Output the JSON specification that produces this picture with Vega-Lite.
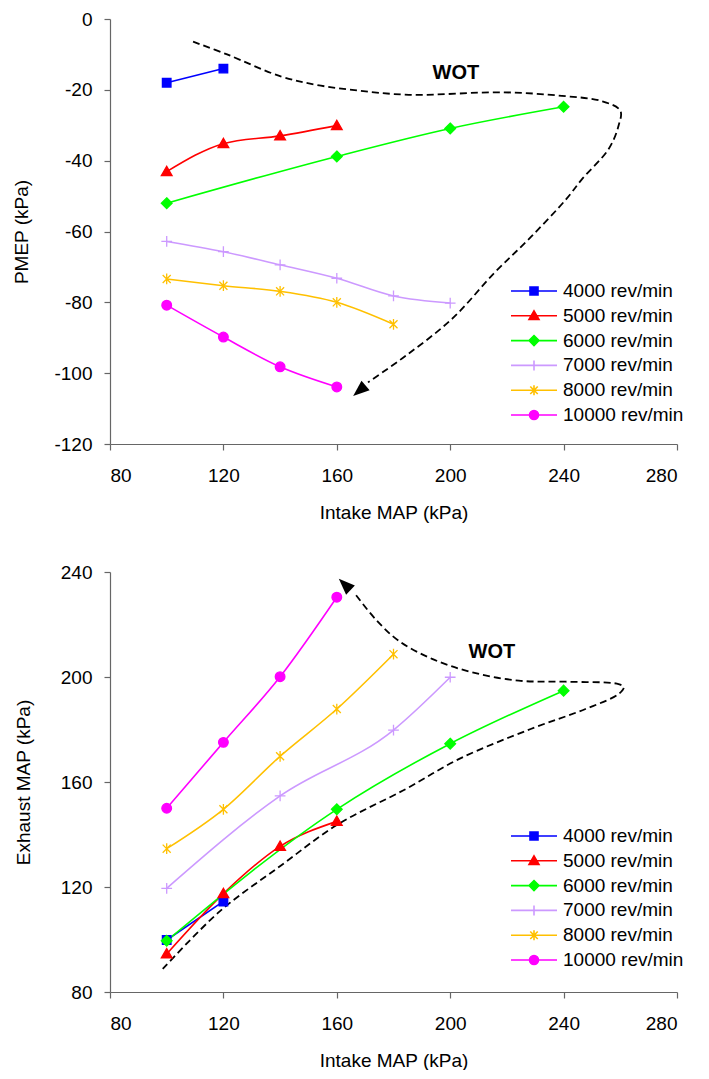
{
  "$schema": "https://vega.github.io/schema/vega-lite/v6.json",
  "padding": {"left": 12, "top": 10, "right": 0, "bottom": 0},
  "spacing": 41,
  "config": {
    "font": "Liberation Sans",
    "view": {"stroke": null},
    "axis": {
      "grid": false,
      "domainColor": "#666666",
      "tickColor": "#666666",
      "domainWidth": 1.2,
      "tickWidth": 1.2,
      "tickSize": 6,
      "labelFontSize": 19,
      "titleFontSize": 19,
      "titleFontWeight": "normal",
      "labelColor": "#000000",
      "titleColor": "#000000",
      "labelFont": "Liberation Sans",
      "titleFont": "Liberation Sans"
    },
    "axisX": {"labelPadding": 16, "titlePadding": 18},
    "axisY": {"labelPadding": 12, "titlePadding": 22},
    "legend": {"labelFont": "Liberation Sans", "labelFontSize": 19, "labelColor": "#000000"}
  },
  "datasets": {
    "top_series": [
      {"rpm": "4000 rev/min", "x": 100, "y": -18},
      {"rpm": "4000 rev/min", "x": 120, "y": -14},
      {"rpm": "5000 rev/min", "x": 100, "y": -43.1},
      {"rpm": "5000 rev/min", "x": 120, "y": -35.2},
      {"rpm": "5000 rev/min", "x": 140, "y": -33},
      {"rpm": "5000 rev/min", "x": 160, "y": -30.1},
      {"rpm": "6000 rev/min", "x": 100, "y": -52},
      {"rpm": "6000 rev/min", "x": 160, "y": -38.8},
      {"rpm": "6000 rev/min", "x": 200, "y": -30.9},
      {"rpm": "6000 rev/min", "x": 240, "y": -24.8},
      {"rpm": "7000 rev/min", "x": 100, "y": -62.8},
      {"rpm": "7000 rev/min", "x": 120, "y": -65.7},
      {"rpm": "7000 rev/min", "x": 140, "y": -69.4},
      {"rpm": "7000 rev/min", "x": 160, "y": -73.2},
      {"rpm": "7000 rev/min", "x": 180, "y": -78.2},
      {"rpm": "7000 rev/min", "x": 200, "y": -80.2},
      {"rpm": "8000 rev/min", "x": 100, "y": -73.4},
      {"rpm": "8000 rev/min", "x": 120, "y": -75.3},
      {"rpm": "8000 rev/min", "x": 140, "y": -76.9},
      {"rpm": "8000 rev/min", "x": 160, "y": -80.0},
      {"rpm": "8000 rev/min", "x": 180, "y": -86.2},
      {"rpm": "10000 rev/min", "x": 100, "y": -80.8},
      {"rpm": "10000 rev/min", "x": 120, "y": -89.8},
      {"rpm": "10000 rev/min", "x": 140, "y": -98.2},
      {"rpm": "10000 rev/min", "x": 160, "y": -103.9}
    ],
    "top_wot": [
      {"i": 1, "x": 109.3, "y": -6.4},
      {"i": 2, "x": 121.3, "y": -10.0},
      {"i": 3, "x": 140.2, "y": -16.2},
      {"i": 4, "x": 152.8, "y": -18.6},
      {"i": 5, "x": 165.4, "y": -20.0},
      {"i": 6, "x": 185.4, "y": -21.4},
      {"i": 7, "x": 218.3, "y": -20.7},
      {"i": 8, "x": 239.4, "y": -21.7},
      {"i": 9, "x": 253.5, "y": -23.2},
      {"i": 10, "x": 260.0, "y": -25.9},
      {"i": 11, "x": 259.4, "y": -30.1},
      {"i": 12, "x": 255.9, "y": -36.7},
      {"i": 13, "x": 246.5, "y": -45.2},
      {"i": 14, "x": 241.0, "y": -50.8},
      {"i": 15, "x": 228.4, "y": -61.6},
      {"i": 16, "x": 215.8, "y": -71.5},
      {"i": 17, "x": 200.6, "y": -84.7},
      {"i": 18, "x": 184.3, "y": -95.1},
      {"i": 19, "x": 171.0, "y": -102.6}
    ],
    "top_arrow": [{"x": 168.2, "y": -104.8}],
    "top_label": [{"x": 202, "y": -15.3, "label": "WOT"}],
    "bottom_series": [
      {"rpm": "4000 rev/min", "x": 100, "y": 99.8},
      {"rpm": "4000 rev/min", "x": 120, "y": 114.5},
      {"rpm": "5000 rev/min", "x": 100, "y": 94.5},
      {"rpm": "5000 rev/min", "x": 120, "y": 117.5},
      {"rpm": "5000 rev/min", "x": 140, "y": 135.5},
      {"rpm": "5000 rev/min", "x": 160, "y": 145},
      {"rpm": "6000 rev/min", "x": 100, "y": 99.5},
      {"rpm": "6000 rev/min", "x": 160, "y": 149.6},
      {"rpm": "6000 rev/min", "x": 200, "y": 174.6},
      {"rpm": "6000 rev/min", "x": 240, "y": 194.8},
      {"rpm": "7000 rev/min", "x": 100, "y": 119.5},
      {"rpm": "7000 rev/min", "x": 140, "y": 154.7},
      {"rpm": "7000 rev/min", "x": 180, "y": 179.8},
      {"rpm": "7000 rev/min", "x": 200, "y": 199.9},
      {"rpm": "8000 rev/min", "x": 100, "y": 134.6},
      {"rpm": "8000 rev/min", "x": 120, "y": 149.6},
      {"rpm": "8000 rev/min", "x": 140, "y": 169.8},
      {"rpm": "8000 rev/min", "x": 160, "y": 187.8},
      {"rpm": "8000 rev/min", "x": 180, "y": 208.7},
      {"rpm": "10000 rev/min", "x": 100, "y": 150},
      {"rpm": "10000 rev/min", "x": 120, "y": 175.1},
      {"rpm": "10000 rev/min", "x": 140, "y": 200.1},
      {"rpm": "10000 rev/min", "x": 160, "y": 230.4}
    ],
    "bottom_wot": [
      {"i": 1, "x": 98.6, "y": 88.8},
      {"i": 2, "x": 118.8, "y": 110.8},
      {"i": 3, "x": 140.2, "y": 128.1},
      {"i": 4, "x": 160.3, "y": 143.8},
      {"i": 5, "x": 184.3, "y": 157.3},
      {"i": 6, "x": 203.2, "y": 168.8},
      {"i": 7, "x": 228.4, "y": 180.2},
      {"i": 8, "x": 247.7, "y": 187.8},
      {"i": 9, "x": 259.4, "y": 193.5},
      {"i": 10, "x": 261.2, "y": 196.1},
      {"i": 11, "x": 259.4, "y": 197.3},
      {"i": 12, "x": 240.6, "y": 198.2},
      {"i": 13, "x": 224.2, "y": 198.6},
      {"i": 14, "x": 207.7, "y": 201.8},
      {"i": 15, "x": 193.6, "y": 206.9},
      {"i": 16, "x": 181.8, "y": 213.8},
      {"i": 17, "x": 173.6, "y": 222.1},
      {"i": 18, "x": 166.5, "y": 231.6}
    ],
    "bottom_arrow": [{"x": 163.0, "y": 235.0}],
    "bottom_label": [{"x": 214.7, "y": 209.6, "label": "WOT"}]
  },
  "vconcat": [
    {
      "width": 567,
      "height": 425,
      "encoding": {
        "x": {"field": "x", "type": "quantitative", "scale": {"domain": [80, 280], "nice": false, "zero": false},
              "axis": {"values": [80, 120, 160, 200, 240, 280], "title": "Intake MAP (kPa)"}},
        "y": {"field": "y", "type": "quantitative", "scale": {"domain": [-120, 0], "nice": false, "zero": false},
              "axis": {"values": [-120, -100, -80, -60, -40, -20, 0], "title": "PMEP (kPa)", "labelExpr": "'' + datum.value"}}
      },
      "layer": [
        {
          "data": {"name": "top_wot"},
          "mark": {"type": "line", "interpolate": "catmull-rom", "color": "#000000", "strokeWidth": 1.8, "strokeDash": [7, 4]},
          "encoding": {"order": {"field": "i", "type": "quantitative"}}
        },
        {
          "data": {"name": "top_arrow"},
          "mark": {"type": "point", "shape": "M0,-1L0.7,0.8L-0.7,0.8Z", "size": 324, "angle": 230, "filled": true, "color": "#000000", "opacity": 1},
          "encoding": {}
        },
        {
          "data": {"name": "top_label"},
          "mark": {"type": "text", "fontSize": 20, "fontWeight": "bold", "font": "Liberation Sans", "color": "#000000"},
          "encoding": {"text": {"field": "label"}}
        },
        {
          "data": {"name": "top_series"},
          "mark": {"type": "line", "interpolate": "monotone", "strokeWidth": 1.6},
          "encoding": {
            "color": {"field": "rpm", "type": "nominal", "legend": null,
              "scale": {"domain": ["4000 rev/min", "5000 rev/min", "6000 rev/min", "7000 rev/min", "8000 rev/min", "10000 rev/min"],
                        "range": ["#0000FF", "#FF0000", "#00FF00", "#CC99FF", "#FFC000", "#FF00FF"]}}
          }
        },
        {
          "data": {"name": "top_series"},
          "mark": {"type": "point", "filled": true, "opacity": 1, "size": 115, "strokeWidth": 1.3},
          "encoding": {
            "color": {"field": "rpm", "type": "nominal", "legend": null,
              "scale": {"domain": ["4000 rev/min", "5000 rev/min", "6000 rev/min", "7000 rev/min", "8000 rev/min", "10000 rev/min"],
                        "range": ["#0000FF", "#FF0000", "#00FF00", "#CC99FF", "#FFC000", "#FF00FF"]}},
            "stroke": {"field": "rpm", "type": "nominal", "legend": null,
              "scale": {"domain": ["4000 rev/min", "5000 rev/min", "6000 rev/min", "7000 rev/min", "8000 rev/min", "10000 rev/min"],
                        "range": ["#0000FF", "#FF0000", "#00FF00", "#CC99FF", "#FFC000", "#FF00FF"]}},
            "shape": {"field": "rpm", "type": "nominal", "legend": null,
              "scale": {"domain": ["4000 rev/min", "5000 rev/min", "6000 rev/min", "7000 rev/min", "8000 rev/min", "10000 rev/min"],
                        "range": ["M-0.8,-0.8H0.8V0.8H-0.8Z", "M0,-1L1,0.75H-1Z", "M0,-1L1,0L0,1L-1,0Z", "M-1,0H1M0,-1V1", "M0,-1V1M-0.75,-0.75L0.75,0.75M-0.75,0.75L0.75,-0.75", "M0.9,0A0.9,0.9,0,1,1,-0.9,0A0.9,0.9,0,1,1,0.9,0Z"]}}
          }
        },
        {
          "data": {"name": "top_series"},
          "mark": {"type": "point", "filled": true, "opacity": 0},
          "encoding": {
            "color": {"field": "rpm", "type": "nominal",
              "scale": {"domain": ["4000 rev/min", "5000 rev/min", "6000 rev/min", "7000 rev/min", "8000 rev/min", "10000 rev/min"],
                        "range": ["#0000FF", "#FF0000", "#00FF00", "#CC99FF", "#FFC000", "#FF00FF"]},
              "legend": {"orient": "none", "legendX": 400, "legendY": 262, "title": null, "symbolSize": 2116, "clipHeight": 20, "rowPadding": 4.8, "labelOffset": 5, "symbolStrokeWidth": 1.6, "symbolOpacity": 1, "padding": 0}},
            "stroke": {"field": "rpm", "type": "nominal",
              "scale": {"domain": ["4000 rev/min", "5000 rev/min", "6000 rev/min", "7000 rev/min", "8000 rev/min", "10000 rev/min"],
                        "range": ["#0000FF", "#FF0000", "#00FF00", "#CC99FF", "#FFC000", "#FF00FF"]},
              "legend": {"orient": "none", "legendX": 400, "legendY": 262, "title": null, "symbolSize": 2116, "clipHeight": 20, "rowPadding": 4.8, "labelOffset": 5, "symbolStrokeWidth": 1.6, "symbolOpacity": 1, "padding": 0}},
            "shape": {"field": "rpm", "type": "nominal",
              "scale": {"domain": ["4000 rev/min", "5000 rev/min", "6000 rev/min", "7000 rev/min", "8000 rev/min", "10000 rev/min"],
                        "range": ["M-1,0H1M-0.174,-0.174H0.174V0.174H-0.174Z", "M-1,0H1M0,-0.217L0.217,0.163H-0.217Z", "M-1,0H1M0,-0.217L0.217,0L0,0.217L-0.217,0Z", "M-1,0H1M0,-0.217V0.217", "M-1,0H1M0,-0.217V0.217M-0.163,-0.163L0.163,0.163M-0.163,0.163L0.163,-0.163", "M-1,0H1M0.196,0A0.196,0.196,0,1,1,-0.196,0A0.196,0.196,0,1,1,0.196,0Z"]},
              "legend": {"orient": "none", "legendX": 400, "legendY": 262, "title": null, "symbolSize": 2116, "clipHeight": 20, "rowPadding": 4.8, "labelOffset": 5, "symbolStrokeWidth": 1.6, "symbolOpacity": 1, "padding": 0}}
          }
        }
      ],
      "resolve": {"scale": {"color": "independent", "stroke": "independent", "shape": "independent"}}
    },
    {
      "width": 567,
      "height": 420,
      "encoding": {
        "x": {"field": "x", "type": "quantitative", "scale": {"domain": [80, 280], "nice": false, "zero": false},
              "axis": {"values": [80, 120, 160, 200, 240, 280], "title": "Intake MAP (kPa)"}},
        "y": {"field": "y", "type": "quantitative", "scale": {"domain": [80, 240], "nice": false, "zero": false},
              "axis": {"values": [80, 120, 160, 200, 240], "title": "Exhaust MAP (kPa)", "titlePadding": 27, "labelExpr": "'' + datum.value"}}
      },
      "layer": [
        {
          "data": {"name": "bottom_wot"},
          "mark": {"type": "line", "interpolate": "catmull-rom", "color": "#000000", "strokeWidth": 1.8, "strokeDash": [7, 4]},
          "encoding": {"order": {"field": "i", "type": "quantitative"}}
        },
        {
          "data": {"name": "bottom_arrow"},
          "mark": {"type": "point", "shape": "M0,-1L0.7,0.8L-0.7,0.8Z", "size": 324, "angle": 314, "filled": true, "color": "#000000", "opacity": 1},
          "encoding": {}
        },
        {
          "data": {"name": "bottom_label"},
          "mark": {"type": "text", "fontSize": 20, "fontWeight": "bold", "font": "Liberation Sans", "color": "#000000"},
          "encoding": {"text": {"field": "label"}}
        },
        {
          "data": {"name": "bottom_series"},
          "mark": {"type": "line", "interpolate": "monotone", "strokeWidth": 1.6},
          "encoding": {
            "color": {"field": "rpm", "type": "nominal", "legend": null,
              "scale": {"domain": ["4000 rev/min", "5000 rev/min", "6000 rev/min", "7000 rev/min", "8000 rev/min", "10000 rev/min"],
                        "range": ["#0000FF", "#FF0000", "#00FF00", "#CC99FF", "#FFC000", "#FF00FF"]}}
          }
        },
        {
          "data": {"name": "bottom_series"},
          "mark": {"type": "point", "filled": true, "opacity": 1, "size": 115, "strokeWidth": 1.3},
          "encoding": {
            "color": {"field": "rpm", "type": "nominal", "legend": null,
              "scale": {"domain": ["4000 rev/min", "5000 rev/min", "6000 rev/min", "7000 rev/min", "8000 rev/min", "10000 rev/min"],
                        "range": ["#0000FF", "#FF0000", "#00FF00", "#CC99FF", "#FFC000", "#FF00FF"]}},
            "stroke": {"field": "rpm", "type": "nominal", "legend": null,
              "scale": {"domain": ["4000 rev/min", "5000 rev/min", "6000 rev/min", "7000 rev/min", "8000 rev/min", "10000 rev/min"],
                        "range": ["#0000FF", "#FF0000", "#00FF00", "#CC99FF", "#FFC000", "#FF00FF"]}},
            "shape": {"field": "rpm", "type": "nominal", "legend": null,
              "scale": {"domain": ["4000 rev/min", "5000 rev/min", "6000 rev/min", "7000 rev/min", "8000 rev/min", "10000 rev/min"],
                        "range": ["M-0.8,-0.8H0.8V0.8H-0.8Z", "M0,-1L1,0.75H-1Z", "M0,-1L1,0L0,1L-1,0Z", "M-1,0H1M0,-1V1", "M0,-1V1M-0.75,-0.75L0.75,0.75M-0.75,0.75L0.75,-0.75", "M0.9,0A0.9,0.9,0,1,1,-0.9,0A0.9,0.9,0,1,1,0.9,0Z"]}}
          }
        },
        {
          "data": {"name": "bottom_series"},
          "mark": {"type": "point", "filled": true, "opacity": 0},
          "encoding": {
            "color": {"field": "rpm", "type": "nominal",
              "scale": {"domain": ["4000 rev/min", "5000 rev/min", "6000 rev/min", "7000 rev/min", "8000 rev/min", "10000 rev/min"],
                        "range": ["#0000FF", "#FF0000", "#00FF00", "#CC99FF", "#FFC000", "#FF00FF"]},
              "legend": {"orient": "none", "legendX": 400, "legendY": 254, "title": null, "symbolSize": 2116, "clipHeight": 20, "rowPadding": 4.8, "labelOffset": 5, "symbolStrokeWidth": 1.6, "symbolOpacity": 1, "padding": 0}},
            "stroke": {"field": "rpm", "type": "nominal",
              "scale": {"domain": ["4000 rev/min", "5000 rev/min", "6000 rev/min", "7000 rev/min", "8000 rev/min", "10000 rev/min"],
                        "range": ["#0000FF", "#FF0000", "#00FF00", "#CC99FF", "#FFC000", "#FF00FF"]},
              "legend": {"orient": "none", "legendX": 400, "legendY": 254, "title": null, "symbolSize": 2116, "clipHeight": 20, "rowPadding": 4.8, "labelOffset": 5, "symbolStrokeWidth": 1.6, "symbolOpacity": 1, "padding": 0}},
            "shape": {"field": "rpm", "type": "nominal",
              "scale": {"domain": ["4000 rev/min", "5000 rev/min", "6000 rev/min", "7000 rev/min", "8000 rev/min", "10000 rev/min"],
                        "range": ["M-1,0H1M-0.174,-0.174H0.174V0.174H-0.174Z", "M-1,0H1M0,-0.217L0.217,0.163H-0.217Z", "M-1,0H1M0,-0.217L0.217,0L0,0.217L-0.217,0Z", "M-1,0H1M0,-0.217V0.217", "M-1,0H1M0,-0.217V0.217M-0.163,-0.163L0.163,0.163M-0.163,0.163L0.163,-0.163", "M-1,0H1M0.196,0A0.196,0.196,0,1,1,-0.196,0A0.196,0.196,0,1,1,0.196,0Z"]},
              "legend": {"orient": "none", "legendX": 400, "legendY": 254, "title": null, "symbolSize": 2116, "clipHeight": 20, "rowPadding": 4.8, "labelOffset": 5, "symbolStrokeWidth": 1.6, "symbolOpacity": 1, "padding": 0}}
          }
        }
      ],
      "resolve": {"scale": {"color": "independent", "stroke": "independent", "shape": "independent"}}
    }
  ]
}
